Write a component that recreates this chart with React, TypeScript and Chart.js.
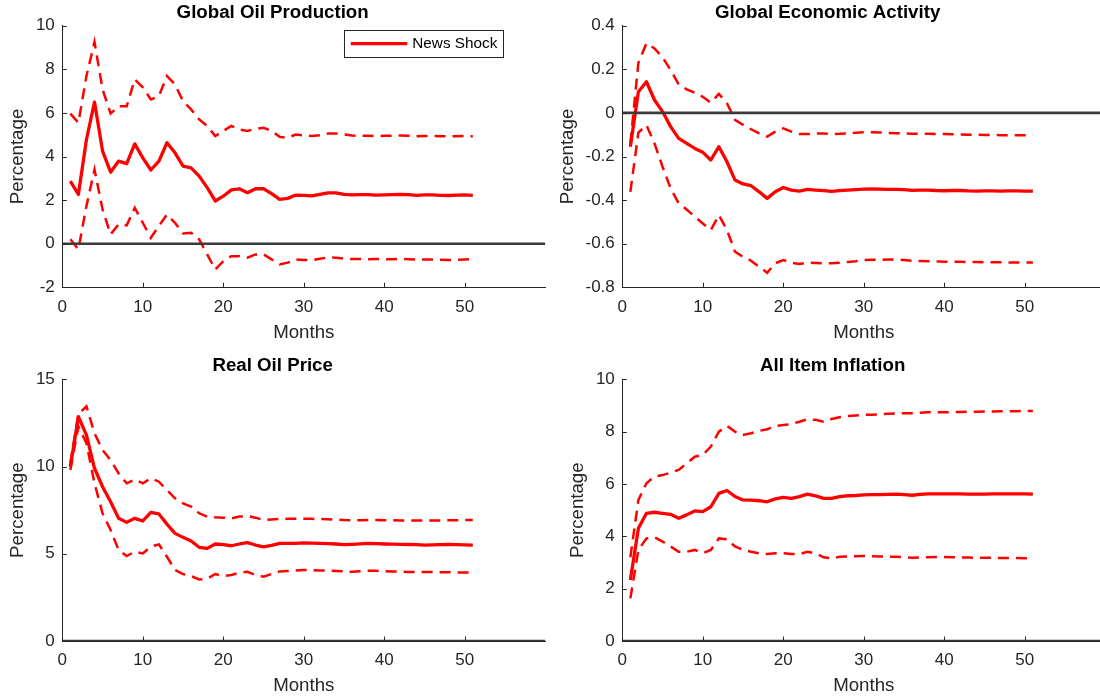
import { useEffect, useRef } from "react";
import { Chart, registerables } from "chart.js";

Chart.register(...registerables);

// ---------- data ----------
const months = Array.from({ length: 51 }, (_, i) => i + 1);
const xTickValues = [0, 10, 20, 30, 40, 50];
const xRange = [0, 60];
const referenceLevel = 0;

const oilProdMedian = [2.87, 2.26, 4.78, 6.5, 4.25, 3.28, 3.79, 3.67, 4.58, 3.94, 3.38, 3.79, 4.63, 4.17, 3.56, 3.48, 3.1, 2.57, 1.96, 2.18, 2.47, 2.52, 2.34, 2.52, 2.52, 2.3, 2.03, 2.08, 2.23, 2.22, 2.19, 2.26, 2.33, 2.33, 2.26, 2.24, 2.25, 2.25, 2.23, 2.24, 2.25, 2.26, 2.25, 2.22, 2.24, 2.24, 2.22, 2.21, 2.23, 2.24, 2.22];
const oilProdUpper = [5.97, 5.55, 7.69, 9.25, 7.08, 5.97, 6.31, 6.31, 7.54, 7.17, 6.62, 6.77, 7.69, 7.31, 6.54, 6.16, 5.7, 5.4, 4.94, 5.17, 5.4, 5.24, 5.17, 5.27, 5.32, 5.17, 4.9, 4.86, 5.01, 4.97, 4.94, 4.98, 5.05, 5.06, 5.01, 4.96, 4.95, 4.95, 4.94, 4.95, 4.95, 4.96, 4.95, 4.93, 4.94, 4.94, 4.93, 4.92, 4.93, 4.94, 4.93];
const oilProdLower = [0.2, -0.26, 1.73, 3.4, 1.57, 0.43, 0.89, 0.84, 1.65, 0.96, 0.27, 0.81, 1.34, 0.96, 0.47, 0.5, 0.2, -0.49, -1.18, -0.8, -0.57, -0.57, -0.64, -0.49, -0.49, -0.72, -0.95, -0.87, -0.72, -0.75, -0.75, -0.69, -0.63, -0.64, -0.69, -0.7, -0.7, -0.71, -0.7, -0.71, -0.71, -0.7, -0.71, -0.73, -0.72, -0.73, -0.74, -0.75, -0.74, -0.72, -0.7];
const oilProdTicks = [-2, 0, 2, 4, 6, 8, 10];

const activityMedian = [-0.155, 0.097, 0.143, 0.059, 0.006, -0.063, -0.117, -0.14, -0.163, -0.181, -0.216, -0.155, -0.224, -0.308, -0.326, -0.334, -0.362, -0.392, -0.362, -0.342, -0.354, -0.359, -0.351, -0.354, -0.357, -0.36, -0.357, -0.354, -0.352, -0.35, -0.349, -0.35, -0.351, -0.351, -0.352, -0.355, -0.354, -0.354, -0.356, -0.357, -0.356, -0.356, -0.358, -0.359, -0.358, -0.358, -0.359, -0.358, -0.358, -0.359, -0.359];
const activityUpper = [-0.14, 0.23, 0.319, 0.296, 0.255, 0.197, 0.131, 0.108, 0.093, 0.074, 0.047, 0.087, 0.044, -0.032, -0.055, -0.075, -0.094, -0.109, -0.086, -0.071, -0.086, -0.097, -0.097, -0.095, -0.094, -0.097, -0.096, -0.094, -0.091, -0.089, -0.089, -0.09, -0.092, -0.093, -0.094, -0.096, -0.096, -0.096, -0.097, -0.097, -0.098, -0.099, -0.1, -0.1, -0.101, -0.101, -0.102, -0.102, -0.102, -0.103, -0.103];
const activityLower = [-0.362, -0.09, -0.056, -0.14, -0.247, -0.346, -0.415, -0.443, -0.476, -0.507, -0.537, -0.469, -0.537, -0.637, -0.66, -0.678, -0.706, -0.733, -0.69, -0.675, -0.687, -0.693, -0.687, -0.688, -0.69, -0.69, -0.687, -0.684, -0.68, -0.675, -0.674, -0.674, -0.673, -0.672, -0.675, -0.678, -0.679, -0.68, -0.681, -0.683, -0.683, -0.683, -0.684, -0.684, -0.685, -0.685, -0.685, -0.686, -0.686, -0.686, -0.686];
const activityTicks = [-0.8, -0.6, -0.4, -0.2, 0, 0.2, 0.4];

const priceMedian = [9.99, 12.86, 11.8, 9.9, 8.84, 7.98, 7.03, 6.8, 7.03, 6.88, 7.37, 7.28, 6.7, 6.17, 5.94, 5.73, 5.37, 5.31, 5.56, 5.52, 5.46, 5.56, 5.64, 5.5, 5.39, 5.48, 5.6, 5.6, 5.59, 5.62, 5.61, 5.6, 5.58, 5.56, 5.52, 5.54, 5.57, 5.6, 5.58, 5.56, 5.55, 5.54, 5.53, 5.52, 5.5, 5.51, 5.52, 5.53, 5.52, 5.51, 5.5];
const priceUpper = [10.2, 13.0, 13.45, 11.9, 10.95, 10.37, 9.6, 9.04, 9.26, 9.04, 9.32, 9.13, 8.65, 8.18, 7.89, 7.7, 7.32, 7.13, 7.09, 7.07, 7.03, 7.13, 7.16, 7.07, 6.93, 6.97, 6.99, 7.0, 7.01, 7.0, 7.0, 6.99, 6.98, 6.96, 6.93, 6.92, 6.92, 6.93, 6.93, 6.92, 6.92, 6.91, 6.91, 6.9, 6.9, 6.91, 6.91, 6.92, 6.92, 6.93, 6.93];
const priceLower = [9.8, 12.3, 11.33, 9.04, 7.32, 6.36, 5.21, 4.87, 5.12, 5.02, 5.41, 5.54, 4.83, 4.07, 3.84, 3.72, 3.53, 3.57, 3.84, 3.72, 3.78, 3.92, 3.97, 3.78, 3.69, 3.84, 3.99, 4.01, 4.04, 4.07, 4.06, 4.04, 4.03, 4.01, 3.99, 3.97, 4.0, 4.03, 4.02, 4.0, 3.99, 3.97, 3.96, 3.95, 3.95, 3.95, 3.94, 3.94, 3.93, 3.93, 3.93];
const priceTicks = [0, 5, 10, 15];

const inflationMedian = [2.33, 4.31, 4.88, 4.92, 4.88, 4.84, 4.69, 4.82, 4.97, 4.94, 5.13, 5.64, 5.75, 5.52, 5.39, 5.38, 5.36, 5.32, 5.43, 5.49, 5.45, 5.52, 5.61, 5.55, 5.45, 5.45, 5.52, 5.55, 5.56, 5.58, 5.59, 5.59, 5.6, 5.61, 5.59, 5.57, 5.6, 5.62, 5.62, 5.62, 5.62, 5.62, 5.61, 5.61, 5.61, 5.62, 5.62, 5.62, 5.62, 5.62, 5.61];
const inflationUpper = [3.2, 5.39, 6.03, 6.28, 6.34, 6.43, 6.54, 6.79, 7.04, 7.11, 7.43, 8.0, 8.22, 8.0, 7.87, 7.94, 8.03, 8.09, 8.22, 8.25, 8.29, 8.38, 8.47, 8.45, 8.38, 8.48, 8.55, 8.6, 8.62, 8.64, 8.65, 8.66, 8.68, 8.7, 8.7, 8.7, 8.72, 8.74, 8.74, 8.74, 8.75, 8.75, 8.76, 8.76, 8.77, 8.77, 8.78, 8.78, 8.78, 8.79, 8.79];
const inflationLower = [1.63, 3.48, 3.92, 3.96, 3.8, 3.61, 3.41, 3.41, 3.48, 3.35, 3.48, 3.92, 3.89, 3.61, 3.48, 3.41, 3.35, 3.32, 3.35, 3.35, 3.32, 3.32, 3.41, 3.35, 3.2, 3.16, 3.22, 3.23, 3.24, 3.25, 3.24, 3.23, 3.22, 3.22, 3.2, 3.18, 3.19, 3.2, 3.21, 3.21, 3.2, 3.19, 3.19, 3.18, 3.18, 3.18, 3.17, 3.17, 3.17, 3.16, 3.16];
const inflationTicks = [0, 2, 4, 6, 8, 10];

const legendLabel = "News Shock";
const xTitle = "Months";
const yTitle = "Percentage";

// ---------- style ----------
const FONT = "'Liberation Sans', Arial, Helvetica, sans-serif";
const AXIS = "#262626";
const RED = "#ff0000";
const ZERO = "#3a3a3a";

type Panel = {
  title: string;
  median: number[];
  upper: number[];
  lower: number[];
  yTicks: number[];
  legend: boolean;
  left: number;
  top: number;
  width: number;
  height: number;
  yW: number;
  xH: number;
  padRight: number;
  titlePad: { top: number; bottom: number };
  xTitlePadBottom: number;
};

const panels: Panel[] = [
  {
    title: "Global Oil Production", median: oilProdMedian, upper: oilProdUpper, lower: oilProdLower, yTicks: oilProdTicks, legend: true,
    left: 0, top: 0, width: 546, height: 344, yW: 62.3, xH: 56.7, padRight: 0.7, titlePad: { top: 1.8, bottom: 1.46 }, xTitlePadBottom: 0,
  },
  {
    title: "Global Economic Activity", median: activityMedian, upper: activityUpper, lower: activityLower, yTicks: activityTicks, legend: false,
    left: 550, top: 0, width: 556, height: 344, yW: 72.3, xH: 56.7, padRight: 0.7, titlePad: { top: 1.8, bottom: 1.46 }, xTitlePadBottom: 0,
  },
  {
    title: "Real Oil Price", median: priceMedian, upper: priceUpper, lower: priceLower, yTicks: priceTicks, legend: false,
    left: 0, top: 353, width: 546, height: 345, yW: 62.3, xH: 57, padRight: 0.7, titlePad: { top: 1.4, bottom: 2.46 }, xTitlePadBottom: 0.78,
  },
  {
    title: "All Item Inflation", median: inflationMedian, upper: inflationUpper, lower: inflationLower, yTicks: inflationTicks, legend: false,
    left: 560, top: 353, width: 546, height: 345, yW: 62.3, xH: 57, padRight: 0.7, titlePad: { top: 1.4, bottom: 2.46 }, xTitlePadBottom: 0.78,
  },
];

const toPoints = (vals: number[]) => vals.map((v, i) => ({ x: months[i], y: v }));

const tickMarks = {
  id: "tickMarks",
  afterDatasetsDraw(chart: any) {
    const { ctx, chartArea, scales } = chart;
    ctx.save();
    ctx.strokeStyle = AXIS;
    ctx.lineWidth = 1;
    const len = 4.5;
    scales.x.ticks.forEach((t: any) => {
      const px = Math.round(scales.x.getPixelForValue(t.value)) + 0.5;
      ctx.beginPath();
      ctx.moveTo(px, chartArea.bottom);
      ctx.lineTo(px, chartArea.bottom - len);
      ctx.stroke();
    });
    scales.y.ticks.forEach((t: any) => {
      const py = Math.round(scales.y.getPixelForValue(t.value)) + 0.5;
      ctx.beginPath();
      ctx.moveTo(chartArea.left, py);
      ctx.lineTo(chartArea.left + len, py);
      ctx.stroke();
    });
    ctx.restore();
  },
};

const legendBox = {
  id: "legendBox",
  afterDraw(chart: any, _args: any, opts: any) {
    if (!opts || !opts.show) return;
    const { ctx, chartArea } = chart;
    const ds = chart.data.datasets[1];
    const bx = chartArea.left + 282;
    const by = chartArea.top + 4.5;
    const bw = 159;
    const bh = 27;
    ctx.save();
    ctx.fillStyle = "#ffffff";
    ctx.fillRect(bx, by, bw, bh);
    ctx.strokeStyle = AXIS;
    ctx.lineWidth = 1;
    ctx.strokeRect(Math.round(bx) + 0.5, Math.round(by) + 0.5, bw, bh);
    const cy = by + bh / 2;
    ctx.strokeStyle = ds.borderColor;
    ctx.lineWidth = ds.borderWidth;
    ctx.beginPath();
    ctx.moveTo(bx + 6.5, cy);
    ctx.lineTo(bx + 63, cy);
    ctx.stroke();
    ctx.fillStyle = "#000000";
    ctx.font = `15.3px ${FONT}`;
    ctx.textBaseline = "middle";
    ctx.textAlign = "left";
    ctx.fillText(ds.label, bx + 68, cy + 0.5);
    ctx.restore();
  },
};

function PanelChart({ p }: { p: Panel }) {
  const ref = useRef<HTMLCanvasElement | null>(null);
  useEffect(() => {
    if (!ref.current) return;
    const chart = new Chart(ref.current, {
      type: "line",
      data: {
        datasets: [
          {
            label: "zero",
            data: xRange.map((x) => ({ x, y: referenceLevel })),
            borderColor: ZERO,
            borderWidth: 2.6,
            pointRadius: 0,
          },
          {
            label: legendLabel,
            data: toPoints(p.median),
            borderColor: RED,
            borderWidth: 3.3,
            pointRadius: 0,
            borderJoinStyle: "round",
            tension: 0,
          },
          {
            label: "upper",
            data: toPoints(p.upper),
            borderColor: RED,
            borderWidth: 2.5,
            borderDash: [11, 7],
            pointRadius: 0,
            tension: 0,
          },
          {
            label: "lower",
            data: toPoints(p.lower),
            borderColor: RED,
            borderWidth: 2.5,
            borderDash: [11, 7],
            pointRadius: 0,
            tension: 0,
          },
        ],
      },
      options: {
        responsive: false,
        animation: false,
        events: [],
        layout: { padding: { left: 0, right: p.padRight, top: 0, bottom: 0 } },
        plugins: {
          legend: { display: false },
          tooltip: { enabled: false },
          title: {
            display: true,
            text: p.title,
            color: "#000000",
            font: { family: FONT, size: 18.7, weight: "bold", lineHeight: 1.2 },
            padding: p.titlePad,
          },
          legendBox: { show: p.legend },
        } as any,
        scales: {
          x: {
            type: "linear",
            min: xRange[0],
            max: xRange[1],
            afterBuildTicks: (s: any) => {
              s.ticks = xTickValues.map((v) => ({ value: v }));
            },
            afterFit: (s: any) => {
              s.height = p.xH;
            },
            grid: { display: false, drawTicks: false },
            border: { display: true, color: AXIS, width: 1 },
            ticks: {
              color: AXIS,
              font: { family: FONT, size: 17 },
              padding: 9.5,
              maxRotation: 0,
              autoSkip: false,
              callback: (v: any) => String(v),
            },
            title: {
              display: true,
              text: xTitle,
              color: AXIS,
              font: { family: FONT, size: 18.7, lineHeight: 1.2 },
              padding: { top: 0, bottom: p.xTitlePadBottom },
            },
          },
          y: {
            type: "linear",
            min: p.yTicks[0],
            max: p.yTicks[p.yTicks.length - 1],
            afterBuildTicks: (s: any) => {
              s.ticks = p.yTicks.map((v) => ({ value: v }));
            },
            afterFit: (s: any) => {
              s.width = p.yW;
            },
            grid: { display: false, drawTicks: false },
            border: { display: true, color: AXIS, width: 1 },
            ticks: {
              color: AXIS,
              font: { family: FONT, size: 17 },
              padding: 7.5,
              autoSkip: false,
              callback: (v: any) => String(v),
            },
            title: {
              display: true,
              text: yTitle,
              color: AXIS,
              font: { family: FONT, size: 18.7, lineHeight: 1.2 },
              padding: { top: 7.1, bottom: 0 },
            },
          },
        },
      },
      plugins: [tickMarks, legendBox],
    } as any);
    return () => chart.destroy();
  }, [p]);
  return (
    <canvas
      ref={ref}
      width={p.width}
      height={p.height}
      style={{ position: "absolute", left: p.left, top: p.top, width: p.width, height: p.height, display: "block" }}
    />
  );
}

export default function App() {
  return (
    <div
      style={{
        position: "fixed",
        left: 0,
        top: 0,
        width: 1100,
        height: 698,
        overflow: "hidden",
        background: "#ffffff",
      }}
    >
      {panels.map((p) => (
        <PanelChart key={p.title} p={p} />
      ))}
    </div>
  );
}
